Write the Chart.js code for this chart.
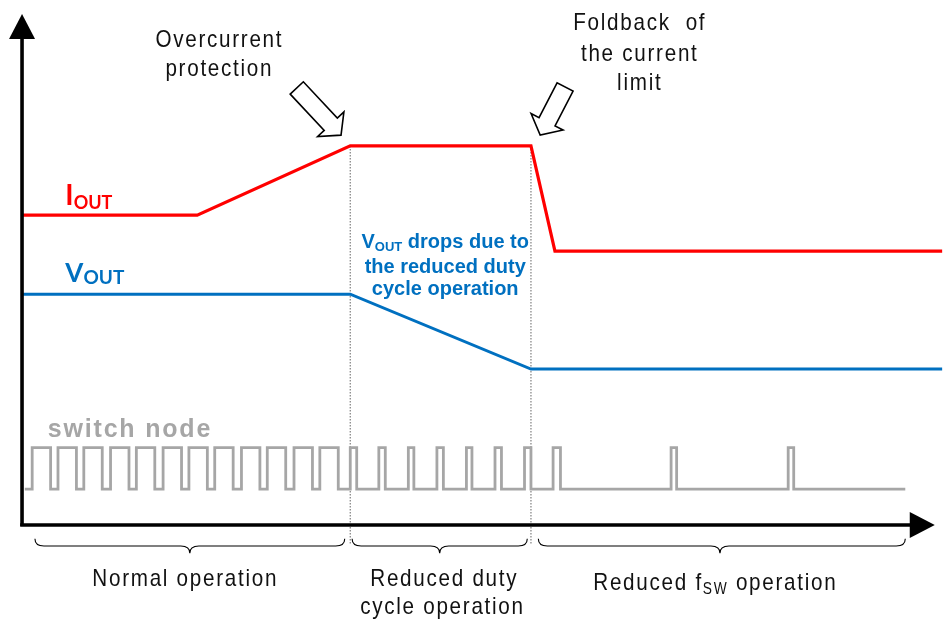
<!DOCTYPE html>
<html>
<head>
<meta charset="utf-8">
<script src="https://cdn.jsdelivr.net/npm/chart.js@4/dist/chart.umd.min.js"></script>
<style>
  html, body { margin: 0; padding: 0; background: #fff; }
  #wrap { width: 944px; height: 619px; }
</style>
</head>
<body>
<div id="wrap"><canvas id="chart"></canvas></div>
<script>
// Time axis and level axis are both arbitrary 0..100 units
const phaseEdges = [35.6, 55.2];

// Output current
const ioutTime = [0, 19.0, 35.6, 55.2, 57.8, 99.8];
const ioutLevel = [60.4, 60.4, 73.9, 73.9, 53.4, 53.4];

// Output voltage
const voutTime = [0, 35.6, 55.2, 99.8];
const voutLevel = [45.0, 45.0, 30.4, 30.4];

// Switch node: rising / falling edge times
const swRise = [1.1, 3.9, 6.7, 9.6, 12.4, 15.3, 18.1, 20.9, 23.8, 26.6, 29.5, 32.3,
                35.6, 38.7, 41.9, 45.0, 48.2, 51.3, 54.5, 57.6, 70.4, 83.1];
const swFall = [3.1, 5.9, 8.7, 11.6, 14.4, 17.3, 20.1, 22.9, 25.8, 28.6, 31.5, 34.3,
                36.3, 39.4, 42.5, 45.7, 48.8, 52.0, 55.2, 58.4, 71.0, 83.7];
const swLow = 7.0;
const swHigh = 15.1;
const swStart = 0.3;
const swEnd = 95.8;

// Operating phases shown under the time axis
const phaseNames = [['Normal operation'], ['Reduced duty', 'cycle operation'], ['Reduced f', 'SW', ' operation']];
const phaseFrom = [1.4, 35.8, 56.0];
const phaseTo = [35.0, 54.8, 95.8];
const phaseMid = [18.2, 45.3, 75.7];

const toPts = (xs, ys) => xs.map((v, i) => ({ x: v, y: ys[i] }));

const swPts = [{ x: swStart, y: swLow }];
swRise.forEach((r, i) => {
    swPts.push({ x: r, y: swLow }, { x: r, y: swHigh }, { x: swFall[i], y: swHigh }, { x: swFall[i], y: swLow });
});
swPts.push({ x: swEnd, y: swLow });

const lineStyle = { pointRadius: 0, tension: 0, fill: false, borderJoinStyle: 'miter', borderCapStyle: 'butt' };

const datasets = [
    { label: 'IOUT', data: toPts(ioutTime, ioutLevel), borderColor: '#ff0000', borderWidth: 3.2, ...lineStyle },
    { label: 'VOUT', data: toPts(voutTime, voutLevel), borderColor: '#0070c0', borderWidth: 3, ...lineStyle },
    { label: 'switch node', data: swPts, borderColor: '#a6a6a6', borderWidth: 2.8, ...lineStyle },
];
phaseEdges.forEach(e => {
    datasets.push({ label: 'edge', data: [{ x: e, y: 73.9 }, { x: e, y: -3.9 }],
        borderColor: '#7f7f7f', borderWidth: 1.2, borderDash: [1.5, 1.5], ...lineStyle });
});

const SANS = '"Liberation Sans", Arial, sans-serif';
const LABEL = 'Lato, "Open Sans", sans-serif';

// draw several text runs (font, offset) as one line, optionally squeezed horizontally
function drawRuns(ctx, runs, px, py, align, sx) {
    sx = sx || 1;
    let total = 0;
    runs.forEach(r => { ctx.font = r.f; r.w = ctx.measureText(r.t).width; total += r.w; });
    ctx.save();
    ctx.translate(px, py);
    ctx.scale(sx, 1);
    let cx = align === 'center' ? -total / 2 : 0;
    ctx.textAlign = 'left';
    ctx.textBaseline = 'alphabetic';
    runs.forEach(r => { ctx.font = r.f; ctx.fillText(r.t, cx, r.dy || 0); cx += r.w; });
    ctx.restore();
}

function hollowArrow(ctx, x0, y0, x1, y1) {
    const len = Math.hypot(x1 - x0, y1 - y0);
    const ux = (x1 - x0) / len, uy = (y1 - y0) / len;
    const nx = -uy, ny = ux;
    const sw = 9, hw = 18, hl = 15;
    const bx = x1 - ux * hl, by = y1 - uy * hl;
    ctx.beginPath();
    ctx.moveTo(x0 + nx * sw, y0 + ny * sw);
    ctx.lineTo(bx + nx * sw, by + ny * sw);
    ctx.lineTo(bx + nx * hw, by + ny * hw);
    ctx.lineTo(x1, y1);
    ctx.lineTo(bx - nx * hw, by - ny * hw);
    ctx.lineTo(bx - nx * sw, by - ny * sw);
    ctx.lineTo(x0 - nx * sw, y0 - ny * sw);
    ctx.closePath();
    ctx.fillStyle = '#fff';
    ctx.fill();
    ctx.lineWidth = 1.6;
    ctx.strokeStyle = '#000';
    ctx.stroke();
}

function axisArrow(ctx, x0, y0, x1, y1) {
    const len = Math.hypot(x1 - x0, y1 - y0);
    const ux = (x1 - x0) / len, uy = (y1 - y0) / len;
    const hl = 25, hw = 13;
    ctx.strokeStyle = '#000';
    ctx.fillStyle = '#000';
    ctx.lineWidth = 3.6;
    ctx.beginPath();
    ctx.moveTo(x0, y0);
    ctx.lineTo(x1 - ux * (hl - 2), y1 - uy * (hl - 2));
    ctx.stroke();
    ctx.beginPath();
    ctx.moveTo(x1, y1);
    ctx.lineTo(x1 - ux * hl - uy * hw, y1 - uy * hl + ux * hw);
    ctx.lineTo(x1 - ux * hl + uy * hw, y1 - uy * hl - ux * hw);
    ctx.closePath();
    ctx.fill();
}

function brace(ctx, x1, x2, xm, yTop, yTip) {
    const yMid = (yTop + yTip) / 2, r = 9;
    ctx.beginPath();
    ctx.moveTo(x1, yTop);
    ctx.quadraticCurveTo(x1, yMid, x1 + r, yMid);
    ctx.lineTo(xm - r, yMid);
    ctx.quadraticCurveTo(xm, yMid, xm, yTip);
    ctx.quadraticCurveTo(xm, yMid, xm + r, yMid);
    ctx.lineTo(x2 - r, yMid);
    ctx.quadraticCurveTo(x2, yMid, x2, yTop);
    ctx.lineWidth = 1.1;
    ctx.strokeStyle = '#000';
    ctx.stroke();
}

const decor = {
    id: 'decor',
    afterDatasetsDraw(chart) {
        const { ctx, scales: { x, y } } = chart;
        const X = v => x.getPixelForValue(v);
        const Y = v => y.getPixelForValue(v);
        const spacing = s => { if (ctx.letterSpacing !== undefined) ctx.letterSpacing = s; };
        ctx.save();
        spacing('0px');

        // axes
        axisArrow(ctx, X(0), Y(-0.2), X(0), Y(99.6));
        axisArrow(ctx, X(-0.2), Y(0), X(99.0), Y(0));

        // callout arrows
        hollowArrow(ctx, X(29.8), Y(85.2), X(34.6), Y(76.0));
        hollowArrow(ctx, X(58.9), Y(85.4), X(56.2), Y(76.0));

        // braces + phase labels
        phaseFrom.forEach((f, i) => brace(ctx, X(f), X(phaseTo[i]), X(phaseMid[i]), Y(-2.7), Y(-5.5)));

        ctx.fillStyle = '#111';
        spacing('2px');
        const big = '24px ' + SANS, sub = '16px ' + SANS, sq = 0.86;
        drawRuns(ctx, [{ t: phaseNames[0][0], f: big }], X(17.7), Y(-11.8), 'center', sq);
        drawRuns(ctx, [{ t: phaseNames[1][0], f: big }], X(45.8), Y(-11.8), 'center', sq);
        drawRuns(ctx, [{ t: phaseNames[1][1], f: big }], X(45.6), Y(-17.25), 'center', sq);
        drawRuns(ctx, [{ t: phaseNames[2][0], f: big }, { t: phaseNames[2][1], f: sub, dy: 4 },
                       { t: phaseNames[2][2], f: big }], X(75.2), Y(-12.6), 'center', sq);

        // top notes
        drawRuns(ctx, [{ t: 'Overcurrent', f: big }], X(21.4), Y(93.2), 'center', sq);
        drawRuns(ctx, [{ t: 'protection', f: big }], X(21.4), Y(87.5), 'center', sq);
        drawRuns(ctx, [{ t: 'Foldback  of', f: big }], X(67.0), Y(96.4), 'center', sq);
        drawRuns(ctx, [{ t: 'the current', f: big }], X(67.0), Y(90.5), 'center', sq);
        drawRuns(ctx, [{ t: 'limit', f: big }], X(67.0), Y(84.7), 'center', sq);

        // signal labels
        spacing('0px');
        ctx.fillStyle = '#ff0000';
        drawRuns(ctx, [{ t: 'I', f: 'bold 28px ' + LABEL }, { t: 'OUT', f: 'bold 18px ' + LABEL, dy: 4 }],
            X(4.7), Y(62.4), 'left');
        ctx.fillStyle = '#0070c0';
        drawRuns(ctx, [{ t: 'V', f: 'bold 26px ' + LABEL }, { t: 'OUT', f: 'bold 19px ' + LABEL, dy: 2 }],
            X(4.7), Y(47.4), 'left');

        const bb = 'bold 20px ' + SANS, bs = 'bold 13px ' + SANS;
        drawRuns(ctx, [{ t: 'V', f: bb }, { t: 'OUT', f: bs, dy: 3 }, { t: ' drops due to', f: bb }],
            X(45.9), Y(54.0), 'center');
        drawRuns(ctx, [{ t: 'the reduced duty', f: bb }], X(45.9), Y(49.1), 'center');
        drawRuns(ctx, [{ t: 'cycle operation', f: bb }], X(45.9), Y(44.8), 'center');

        ctx.fillStyle = '#a6a6a6';
        spacing('1.8px');
        drawRuns(ctx, [{ t: 'switch node', f: 'bold 25px ' + SANS }], X(2.8), Y(17.2), 'left');
        ctx.restore();
    }
};

new Chart(document.getElementById('chart'), {
    type: 'line',
    data: { datasets: datasets },
    options: {
        responsive: true,
        maintainAspectRatio: false,
        animation: false,
        layout: { padding: 0 },
        plugins: { legend: { display: false }, tooltip: { enabled: false } },
        scales: {
            x: { type: 'linear', min: -2.39, max: 100, display: false },
            y: { type: 'linear', min: -18.32, max: 102.34, display: false }
        }
    },
    plugins: [decor]
});
</script>
</body>
</html>
